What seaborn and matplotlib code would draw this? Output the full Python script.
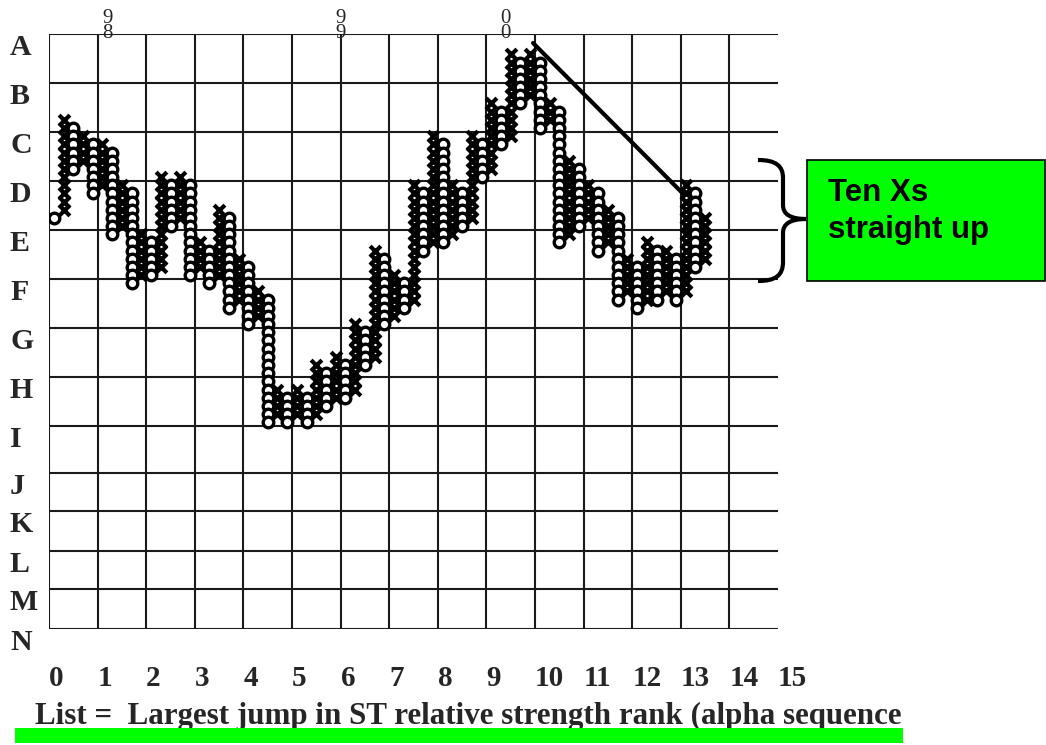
import pandas as pd
import seaborn as sns
import matplotlib.pyplot as plt
from matplotlib.path import Path
from matplotlib.patches import PathPatch, Rectangle
from matplotlib.transforms import blended_transform_factory

# point & figure columns (box 0 = row A, counting downward)
col_kind = list("OXOXOXOXOXOXOXOXOXOXOXOXOXOXOXOXOXOXOXOXOXOXOXOXOXOXOXOXOXOXOXOXOXOX")
col_top = [22, 10, 11, 12, 13, 13, 14, 18, 19, 24, 25, 17, 18, 17, 18, 25, 26, 21, 22, 27,
           28, 31, 32, 43, 44, 43, 44, 40, 41, 39, 40, 35, 36, 26, 27, 29, 30, 18, 19, 12,
           13, 18, 19, 12, 13, 8, 9, 2, 3, 2, 3, 8, 9, 15, 16, 18, 19, 21, 22, 27,
           28, 25, 26, 26, 27, 18, 19, 22, 23, 15]
col_bottom = [22, 21, 16, 15, 19, 18, 24, 23, 30, 29, 29, 28, 23, 22, 29, 28, 30, 29, 33, 32,
              35, 34, 47, 46, 47, 46, 47, 46, 45, 44, 44, 43, 40, 39, 35, 34, 33, 32, 26, 25,
              25, 24, 23, 22, 17, 16, 13, 12, 8, 7, 11, 10, 25, 24, 23, 22, 26, 25, 32, 31,
              33, 32, 32, 31, 32, 31, 28, 27, 31, 30]

row_letters = list("ABCDEFGHIJKLMN")
row_lines = [0, 6, 12, 18, 24, 30, 36, 42, 48, 53.7, 58.4, 63.3, 67.9, 72.8]
col_labels = [str(i) for i in range(16)]
col_lines = [i * 5 for i in range(16)]

year_labels = ["9\n8", "9\n9", "0\n0"]
year_cols = [6, 30, 47]

trend_x = [49.8, 65.2]
trend_y = [1.1, 19.5]

rows = []
for k, (kind, top, bot) in enumerate(zip(col_kind, col_top, col_bottom)):
    for b in range(top, bot + 1):
        rows.append({"col": k + 0.5, "box": b + 0.5, "kind": kind})
pf = pd.DataFrame(rows)

sns.set_style("white")
plt.rcParams["font.family"] = ["Liberation Serif", "DejaVu Serif"]

W, H = 1046, 745
fig = plt.figure(figsize=(W / 100, H / 100), dpi=100)
ax = fig.add_axes([49 / W, 1 - 629 / H, 729 / W, 595 / H])

ax.set_xlim(0, 75)
ax.set_ylim(row_lines[-1], 0)

# grid
for y in row_lines:
    ax.axhline(y, color="#1a1a1a", lw=1.5, zorder=1)
for x in col_lines[:-1]:
    ax.axvline(x, color="#1a1a1a", lw=1.5, zorder=1)
for s in ax.spines.values():
    s.set_visible(False)

# X and O boxes
sns.scatterplot(data=pf[pf["kind"] == "X"], x="col", y="box", marker="x",
                color="black", s=60, linewidth=3.0, ax=ax, zorder=3, legend=False)
sns.scatterplot(data=pf[pf["kind"] == "O"], x="col", y="box", marker="o",
                color="white", edgecolor="black", s=58, linewidth=2.4, ax=ax,
                zorder=3, legend=False)

# trend line
sns.lineplot(x=trend_x, y=trend_y, color="black", lw=3, ax=ax, zorder=4)

# column labels
ax.set_xticks(col_lines)
ax.set_xticklabels(col_labels, fontsize=21, fontweight="bold", ha="left")
ax.tick_params(axis="x", length=0, pad=26)
ax.set_yticks([])
ax.set_xlabel("")
ax.set_ylabel("")

# row letters
tr = blended_transform_factory(fig.transFigure, ax.transData)
for letter, y in zip(row_letters, row_lines):
    ax.text(10 / W, y, letter, transform=tr, fontsize=21.5, fontweight="bold",
            ha="left", va="top", clip_on=False)

# year marks
for lab, c in zip(year_labels, year_cols):
    ax.text(c, -1.0, lab, fontsize=15, ha="center", va="center",
            linespacing=0.72, clip_on=False)

# brace
pts = [(758, 160), (776, 160), (783, 166), (783, 178), (783, 205),
       (783, 214), (790, 219), (806, 219),
       (790, 219), (783, 224), (783, 233), (783, 262),
       (783, 275), (776, 281), (758, 281)]
codes = [Path.MOVETO, Path.CURVE4, Path.CURVE4, Path.CURVE4, Path.LINETO,
         Path.CURVE4, Path.CURVE4, Path.CURVE4,
         Path.CURVE4, Path.CURVE4, Path.CURVE4, Path.LINETO,
         Path.CURVE4, Path.CURVE4, Path.CURVE4]
brace = Path([(px / W, 1 - py / H) for px, py in pts], codes)
fig.add_artist(PathPatch(brace, fill=False, lw=3, color="black",
                         transform=fig.transFigure))

# callout box
fig.add_artist(Rectangle((807 / W, 1 - 281 / H), 238 / W, 121 / H,
                         facecolor="#00ff00", edgecolor="black", lw=1.2,
                         transform=fig.transFigure))
fig.text(828 / W, 1 - 178 / H, "Ten Xs\nstraight up", fontsize=22.5,
         fontweight="bold", family=["Liberation Sans", "DejaVu Sans"],
         color="black", ha="left", va="top", linespacing=1.3)

# bottom caption and green bar
fig.text(35 / W, 1 - 724 / H,
         "List =  Largest jump in ST relative strength rank (alpha sequence",
         fontsize=22.3, fontweight="bold", ha="left", va="baseline")
fig.add_artist(Rectangle((15 / W, 1 - 743 / H), 888 / W, 15 / H,
                         facecolor="#00ff00", edgecolor="none",
                         transform=fig.transFigure, zorder=5))

fig.savefig("out.png", dpi=100)
